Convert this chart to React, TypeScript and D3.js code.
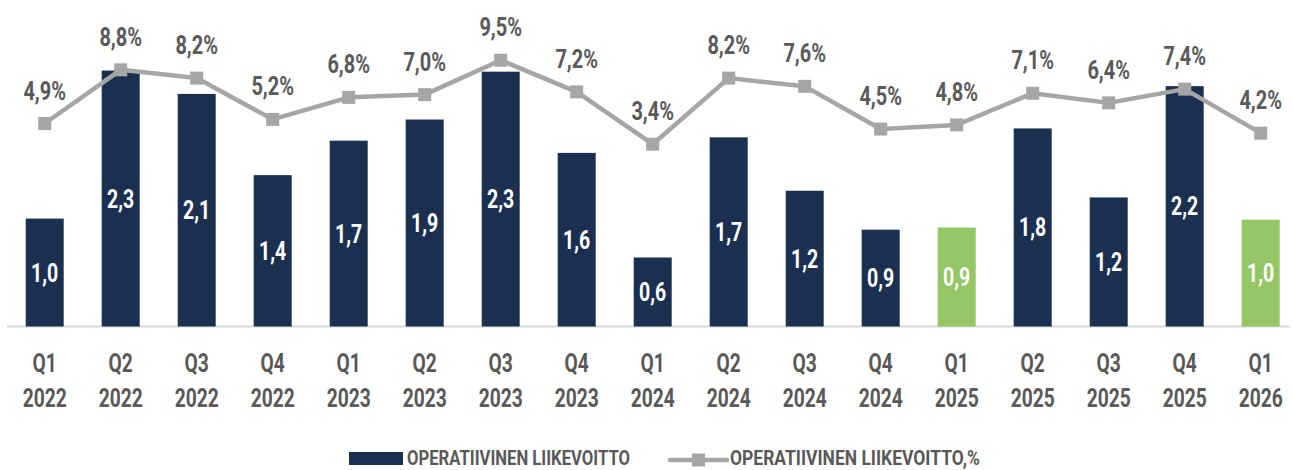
import React from 'react';
import * as d3 from 'd3';

// quarters and years (x axis labels)
const quarters = ['Q1', 'Q2', 'Q3', 'Q4', 'Q1', 'Q2', 'Q3', 'Q4', 'Q1', 'Q2', 'Q3', 'Q4', 'Q1', 'Q2', 'Q3', 'Q4', 'Q1'];
const years = ['2022', '2022', '2022', '2022', '2023', '2023', '2023', '2023', '2024', '2024', '2024', '2024', '2025', '2025', '2025', '2025', '2026'];

// operatiivinen liikevoitto (bars)
const profit = [0.97, 2.3, 2.09, 1.36, 1.67, 1.86, 2.29, 1.56, 0.62, 1.7, 1.22, 0.87, 0.89, 1.78, 1.16, 2.16, 0.96];
// operatiivinen liikevoitto, % (line)
const profitPct = [4.9, 8.8, 8.2, 5.2, 6.8, 7.0, 9.5, 7.2, 3.4, 8.2, 7.6, 4.5, 4.8, 7.1, 6.4, 7.4, 4.2];
// quarters drawn in green
const highlighted = [12, 16];

const W = 1293;
const H = 470;
const NAVY = '#1b3051';
const GREEN = '#94c665';
const LINE = '#a6a6a6';
const TEXT = '#595959';
const FONT = 'Roboto, sans-serif';

const fmt = (v: number, d = 1) => v.toFixed(d).replace('.', ',');

// narrow text: the original uses a condensed face, so squeeze horizontally
const NText = ({ x, y, sx, size, fill, children }: any) => (
  <text
    transform={`translate(${x},${y}) scale(${sx},1)`}
    textAnchor="middle"
    fontSize={size}
    fill={fill}
  >
    {children}
  </text>
);

export default function App() {
  const keys = quarters.map((q, i) => q + ' ' + years[i]);

  const x = d3.scaleBand().domain(keys).range([6.7, 1298.7]).paddingInner(0.5).paddingOuter(0.25);
  const y = d3.scaleLinear().domain([0, 2.5]).range([326.5, 48.3]);
  const y2 = d3.scaleLinear().domain([0, 10]).range([191, 53.3]);

  const cx = (i: number) => (x(keys[i]) as number) + x.bandwidth() / 2;

  const line = d3
    .line<number>()
    .x((d, i) => cx(i))
    .y((d) => y2(d));

  return (
    <svg width={W} height={H} style={{ position: 'absolute', left: 0, top: 0, fontFamily: FONT, fontWeight: 'bold' }}>
      {/* baseline */}
      <line x1={7} x2={1290} y1={y(0)} y2={y(0)} stroke="#d9d9d9" strokeWidth={2} />

      {/* bars */}
      {profit.map((v, i) => (
        <g key={'b' + i}>
          <rect
            x={x(keys[i])}
            y={y(v)}
            width={x.bandwidth()}
            height={y(0) - y(v)}
            fill={highlighted.includes(i) ? GREEN : NAVY}
          />
          <NText x={cx(i)} y={(y(v) + y(0)) / 2 + 9} sx={0.78} size={25} fill="#ffffff">
            {fmt(v)}
          </NText>
        </g>
      ))}

      {/* percentage line */}
      <path d={line(profitPct) || ''} fill="none" stroke={LINE} strokeWidth={4.5} strokeLinejoin="round" />
      {profitPct.map((v, i) => (
        <g key={'p' + i}>
          <rect x={cx(i) - 6.5} y={y2(v) - 6.5} width={13} height={13} fill={LINE} />
          <NText x={cx(i)} y={y2(v) - 24} sx={0.8} size={25} fill={TEXT}>
            {fmt(v) + '%'}
          </NText>
        </g>
      ))}

      {/* x axis labels */}
      {keys.map((k, i) => (
        <g key={'x' + i}>
          <NText x={cx(i)} y={372} sx={0.74} size={26} fill={TEXT}>{quarters[i]}</NText>
          <NText x={cx(i)} y={407} sx={0.74} size={26} fill={TEXT}>{years[i]}</NText>
        </g>
      ))}

      {/* legend */}
      <g fontSize={21} fill={TEXT}>
        <rect x={349} y={452} width={54} height={13} fill={NAVY} />
        <text x={407} y={465} textLength={223} lengthAdjust="spacingAndGlyphs">
          OPERATIIVINEN LIIKEVOITTO
        </text>
        <line x1={670} x2={727} y1={460} y2={460} stroke={LINE} strokeWidth={4.5} strokeLinecap="round" />
        <rect x={692} y={453.5} width={13} height={13} fill={LINE} />
        <text x={730} y={465} textLength={250} lengthAdjust="spacingAndGlyphs">
          OPERATIIVINEN LIIKEVOITTO,%
        </text>
      </g>
    </svg>
  );
}
